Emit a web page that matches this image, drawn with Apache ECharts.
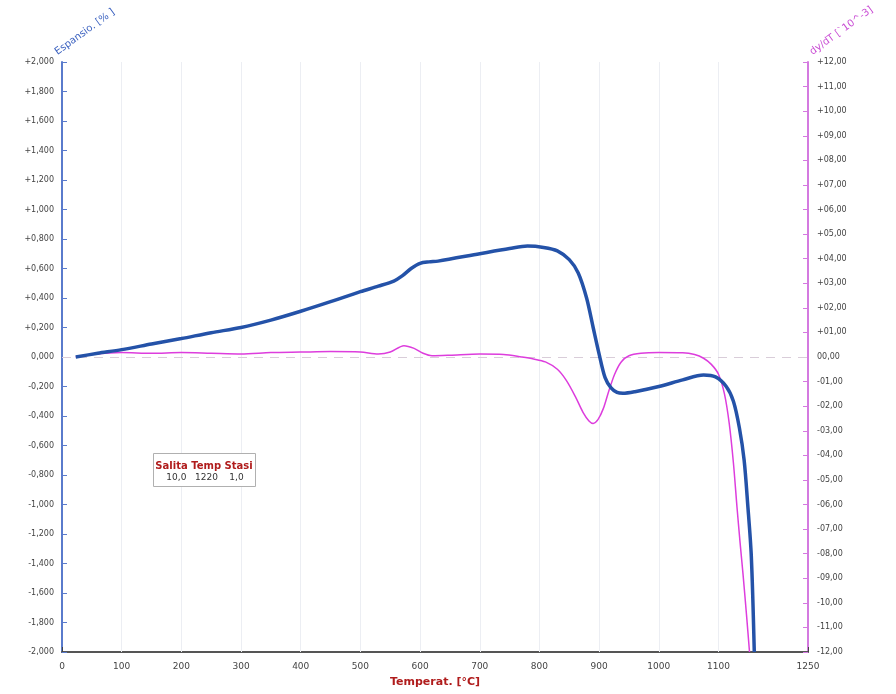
<!DOCTYPE html>
<html>
<head>
<meta charset="utf-8">
<script src="https://cdn.jsdelivr.net/npm/echarts@6/dist/echarts.min.js"></script>
<style>html,body{margin:0;padding:0;background:#fff}#c{width:896px;height:694px}</style>
</head>
<body>
<div id="c"></div>
<script>
// Expansion curve [temperature °C, expansion %]
var expansion = [[23,0],[60,0.025],[100,0.05],[150,0.088],[200,0.125],[250,0.165],[300,0.2],[350,0.25],[400,0.31],[450,0.375],[500,0.443],[530,0.48],[556,0.515],[570,0.55],[585,0.6],[600,0.635],[615,0.645],[630,0.65],[700,0.70],[750,0.735],[780,0.752],[807,0.743],[830,0.72],[850,0.66],[865,0.57],[879,0.40],[890,0.2],[900,0.02],[910,-0.14],[920,-0.21],[930,-0.24],[940,-0.246],[960,-0.235],[1000,-0.2],[1040,-0.155],[1075,-0.122],[1095,-0.135],[1113,-0.2],[1125,-0.3],[1135,-0.48],[1143,-0.7],[1149,-1.0],[1155,-1.35],[1160,-2.0]];
// Derivative curve [temperature °C, dy/dT 10^-3]
var derivative = [[23,0],[50,0.1],[100,0.18],[150,0.15],[200,0.18],[250,0.15],[300,0.12],[350,0.18],[400,0.2],[450,0.22],[500,0.2],[530,0.12],[550,0.2],[573,0.46],[590,0.35],[605,0.15],[620,0.05],[650,0.07],[700,0.12],[740,0.1],[770,0.0],[790,-0.08],[810,-0.2],[830,-0.5],[845,-0.95],[860,-1.6],[873,-2.25],[883,-2.6],[890,-2.7],[898,-2.55],[907,-2.1],[916,-1.4],[926,-0.7],[937,-0.2],[950,0.05],[970,0.15],[1000,0.18],[1040,0.17],[1060,0.1],[1075,-0.05],[1088,-0.3],[1100,-0.7],[1110,-1.5],[1118,-2.7],[1125,-4.3],[1131,-6.1],[1136,-7.5],[1141,-8.8],[1147,-10.5],[1152,-12]];
var xTicks = [0,100,200,300,400,500,600,700,800,900,1000,1100,1250];
var xGrid = [100,200,300,400,500,600,700,800,900,1000,1100];
var legendHead = 'Salita Temp Stasi';
var legendVals = '10,0   1220    1,0';

var chart = echarts.init(document.getElementById('c'), null, {renderer:'canvas'});
var font = 'DejaVu Sans';
function fmtLeft(v){
  if (Math.abs(v) < 1e-9) return '0,000';
  return (v > 0 ? '+' : '-') + Math.abs(v).toFixed(3).replace('.', ',');
}
function fmtRight(v){
  if (Math.abs(v) < 1e-9) return '00,00';
  var a = Math.round(Math.abs(v));
  return (v > 0 ? '+' : '-') + (a < 10 ? '0' + a : '' + a) + ',00';
}
var gridMarks = xGrid.map(function(x){ return {xAxis:x, lineStyle:{color:'#eceef3', width:1, type:'solid'}}; });
gridMarks.push({yAxis:0, lineStyle:{color:'#d9cdd9', width:1, type:[9,7]}});

chart.setOption({
  backgroundColor:'#fff',
  animation:false,
  grid:{left:62, right:88, top:62, bottom:42},
  xAxis:{
    type:'value', min:0, max:1250, interval:50,
    axisLine:{show:true, onZero:false, lineStyle:{color:'#555', width:2}},
    axisTick:{show:true, inside:true, length:5, customValues:xTicks, lineStyle:{color:'#444', width:1}},
    axisLabel:{customValues:xTicks, formatter:function(v){return String(Math.round(v));}, color:'#444', fontFamily:font, fontSize:9, margin:10},
    splitLine:{show:false},
    name:'Temperat. [°C]', nameLocation:'middle', nameGap:25,
    nameTextStyle:{color:'#b01c1c', fontWeight:'bold', fontFamily:font, fontSize:11}
  },
  yAxis:[{
    type:'value', min:-2, max:2, interval:0.2, position:'left',
    axisLine:{show:true, onZero:false, lineStyle:{color:'#5a7bcc', width:2}},
    axisTick:{show:true, inside:true, length:5, lineStyle:{color:'#5a7bcc'}},
    axisLabel:{formatter:fmtLeft, color:'#444', fontFamily:font, fontSize:8, margin:8},
    splitLine:{show:false}
  },{
    type:'value', min:-12, max:12, interval:1, position:'right',
    axisLine:{show:true, onZero:false, lineStyle:{color:'#d47ae0', width:2}},
    axisTick:{show:true, inside:true, length:5, lineStyle:{color:'#d47ae0'}},
    axisLabel:{formatter:fmtRight, color:'#444', fontFamily:font, fontSize:8, margin:9},
    splitLine:{show:false}
  }],
  series:[{
    type:'line', yAxisIndex:1, data:derivative, smooth:0.3, showSymbol:false, z:2,
    lineStyle:{color:'#dd3ddd', width:1.5},
    markLine:{silent:true, symbol:['none','none'], label:{show:false}, data:gridMarks, z:1}
  },{
    type:'line', yAxisIndex:0, data:expansion, smooth:0.3, showSymbol:false, z:3,
    lineStyle:{color:'#2452a8', width:3.5}
  }],
  graphic:[
    {type:'text', x:59, y:57, rotation:36*Math.PI/180,
      style:{text:'Espansio. [% ]', fill:'#3d63c0', font:'10px "DejaVu Sans"', textAlign:'left', textVerticalAlign:'bottom'}},
    {type:'text', x:814, y:57, rotation:36*Math.PI/180,
      style:{text:'dy/dT [`10^-3]', fill:'#c94dd4', font:'10px "DejaVu Sans"', textAlign:'left', textVerticalAlign:'bottom'}},
    {type:'rect', shape:{x:153.5, y:453.5, width:102, height:33}, style:{fill:'#fff', stroke:'#b0b0b0', lineWidth:1}, z:10},
    {type:'text', x:204, y:466, z:11,
      style:{text:legendHead, fill:'#b01c1c', font:'bold 10px "DejaVu Sans"', textAlign:'center', textVerticalAlign:'middle'}},
    {type:'text', x:205, y:478, z:11,
      style:{text:legendVals, fill:'#333', font:'9px "DejaVu Sans"', textAlign:'center', textVerticalAlign:'middle'}}
  ]
});
</script>
</body>
</html>
